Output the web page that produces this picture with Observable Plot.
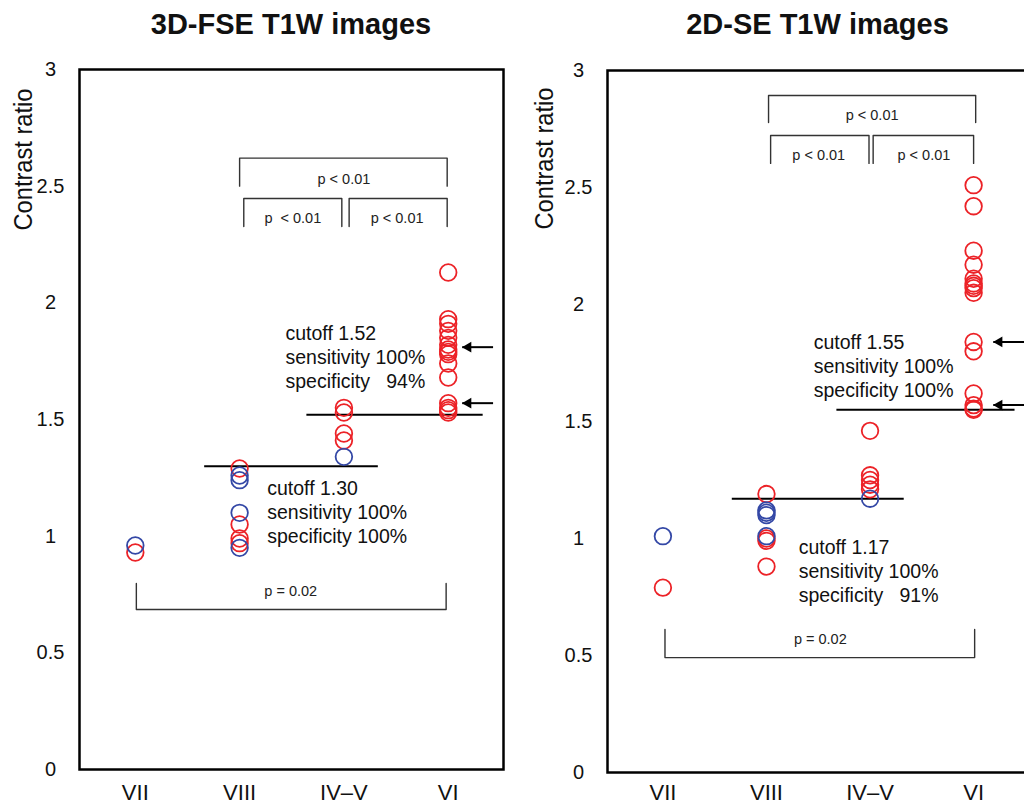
<!DOCTYPE html>
<html><head><meta charset="utf-8">
<script src="https://cdn.jsdelivr.net/npm/d3@7"></script>
<script src="https://cdn.jsdelivr.net/npm/@observablehq/plot@0.6"></script>
<style>
html,body{margin:0;padding:0;background:#fff;}
body{width:1024px;height:806px;overflow:hidden;position:relative;font-family:"Liberation Sans",Arial,sans-serif;}
.panel{position:absolute;top:0;width:512px;height:806px;}
.title{position:absolute;top:10px;font-weight:bold;font-size:29px;line-height:29px;text-align:center;color:#111;white-space:nowrap;}
.panel svg{position:absolute;top:48px;left:0;overflow:visible;}
svg text{white-space:pre;}
</style></head><body>
<div id="left" class="panel" style="left:0"></div>
<div id="right" class="panel" style="left:520px"></div>
<script>
const categories = ["VII","VIII","IV–V","VI"];
const yTicks = [0,0.5,1,1.5,2,2.5,3];
const yTickLabels = ["0","0.5","1","1.5","2","2.5","3"];
const panelTitles = ["3D-FSE T1W images","2D-SE T1W images"];
const yLabel = "Contrast ratio";

// values per category, in the order VII, VIII, IV–V, VI
const fseRed  = [[0.93],[1.29,1.05,0.99,0.97],[1.55,1.53,1.44,1.41],
                 [2.13,1.93,1.91,1.88,1.85,1.82,1.80,1.79,1.78,1.74,1.68,1.57,1.55,1.54,1.53]];
const fseBlue = [[0.96],[1.26,1.24,1.10,0.95],[1.34],[]];
const seRed   = [[0.79],[1.19,1.00,0.99,0.88],[1.46,1.27,1.25,1.23,1.21],
                 [2.51,2.42,2.23,2.17,2.11,2.09,2.08,2.07,2.05,1.84,1.80,1.62,1.57,1.555,1.55]];
const seBlue  = [[1.01],[1.12,1.11,1.10,1.01],[1.17],[]];

// cutoff lines (value, extent in category units)
const fseCutoffs = [{value:1.30, x1:0.665, x2:2.33},{value:1.52, x1:1.645, x2:3.335}];
const seCutoffs  = [{value:1.17, x1:0.67, x2:2.33},{value:1.55, x1:1.68, x2:3.40}];

const fseCutoffText = [
  {x:1.44, y:1.771, text:"cutoff 1.52\nsensitivity 100%\nspecificity   94%"},
  {x:1.265, y:1.107, text:"cutoff 1.30\nsensitivity 100%\nspecificity 100%"}];
const seCutoffText = [
  {x:1.456, y:1.740, text:"cutoff 1.55\nsensitivity 100%\nspecificity 100%"},
  {x:1.311, y:0.864, text:"cutoff 1.17\nsensitivity 100%\nspecificity   91%"}];

// significance brackets
const fseBrackets = [
  {x1:1.00, x2:2.99, top:2.62, leg:2.50, label:"p < 0.01", lx:2.00, ly:2.531},
  {x1:1.04, x2:1.98, top:2.447, leg:2.327, label:"p  < 0.01", lx:1.51, ly:2.36},
  {x1:2.05, x2:2.99, top:2.447, leg:2.327, label:"p < 0.01", lx:2.51, ly:2.36},
  {x1:0.01, x2:2.98, top:0.686, leg:0.797, label:"p = 0.02", lx:1.49, ly:0.765}];
const seBrackets = [
  {x1:1.02, x2:3.02, top:2.893, leg:2.778, label:"p < 0.01", lx:2.02, ly:2.81},
  {x1:1.04, x2:1.99, top:2.722, leg:2.603, label:"p < 0.01", lx:1.505, ly:2.639},
  {x1:2.03, x2:3.00, top:2.722, leg:2.603, label:"p < 0.01", lx:2.52, ly:2.639},
  {x1:0.02, x2:3.01, top:0.491, leg:0.611, label:"p = 0.02", lx:1.52, ly:0.571}];

const fseArrows = [{y:1.81, tip:3.134, tail:3.43},{y:1.57, tip:3.134, tail:3.43}];
const seArrows  = [{y:1.84, tip:3.19, tail:3.56},{y:1.57, tip:3.19, tail:3.56}];

const RED = "#ec2227", BLUE = "#3448a6";

function toPoints(arr){ const out=[]; arr.forEach((vals,i)=>vals.forEach(v=>out.push({cat:i,value:v}))); return out; }

function panel(el, title, red, blue, cutoffs, ctext, brackets, arrows, o) {
  const bracketPath = brackets.flatMap((b,k)=>[
    {k,x:b.x1,y:b.leg},{k,x:b.x1,y:b.top},{k,x:b.x2,y:b.top},{k,x:b.x2,y:b.leg}]);
  const chart = Plot.plot({
    width:512, height:758,
    marginLeft:o.ml, marginRight:o.mr, marginTop:o.mt, marginBottom:o.mb,
    style:{fontFamily:"'Liberation Sans', Arial, sans-serif", background:"transparent", color:"#111"},
    x:{domain:[-0.535,3.53]},
    y:{domain:[0,3]},
    marks:[
      Plot.axisY(yTicks, {tickSize:0, tickPadding:29, textAnchor:"middle", fontSize:20,
        tickFormat:d=>yTickLabels[yTicks.indexOf(d)], label:null}),
      Plot.axisX([0,1,2,3], {tickSize:0, tickPadding:o.xpad, fontSize:22,
        tickFormat:i=>categories[i], label:null}),
      Plot.text([yLabel], {frameAnchor:"top-left", text:d=>d, rotate:-90, textAnchor:"end",
        dx:o.ldx, dy:o.ldy, fontSize:26, className:"ylab"}),
      Plot.line(bracketPath, {x:"x", y:"y", z:"k", stroke:"#333", strokeWidth:1.4}),
      Plot.text(brackets, {x:"lx", y:"ly", text:"label", fontSize:14.5, fill:"#222"}),
      Plot.ruleY(cutoffs, {y:"value", x1:"x1", x2:"x2", stroke:"#000", strokeWidth:2}),
      Plot.dot(toPoints(red), {x:"cat", y:"value", r:8.3, stroke:RED, strokeWidth:1.8, fill:"none"}),
      Plot.dot(toPoints(blue), {x:"cat", y:"value", r:8.3, stroke:BLUE, strokeWidth:1.8, fill:"none"}),
      Plot.text(ctext, {x:"x", y:"y", text:"text", textAnchor:"start", lineAnchor:"middle",
        lineHeight:1.22, fontSize:19.5, fill:"#111"}),
      Plot.link(arrows, {x1:"tail", x2:"tip", y1:"y", y2:"y", stroke:"#000", strokeWidth:2}),
      Plot.dot(arrows, {x:"tip", y:"y", symbol:"triangle", r:4, rotate:-90, fill:"#000", stroke:"none", dx:6}),
      Plot.frame({stroke:"#000", strokeWidth:2.5})
    ]
  });
  // condense the axis title like the narrow face in the reference
  d3.select(chart).selectAll("g.ylab text")
    .attr("textLength", 142).attr("lengthAdjust", "spacingAndGlyphs");
  const t = document.createElement("div");
  t.className = "title";
  t.textContent = title;
  t.style.left = o.ml + "px";
  t.style.width = (512 - o.ml - o.mr) + "px";
  el.appendChild(t);
  el.appendChild(chart);
}

panel(document.getElementById("left"), panelTitles[0], fseRed, fseBlue, fseCutoffs, fseCutoffText, fseBrackets, fseArrows,
  {ml:79, mr:9, mt:21, mb:37, ldx:-66, ldy:19, xpad:15});
panel(document.getElementById("right"), panelTitles[1], seRed, seBlue, seCutoffs, seCutoffText, seBrackets, seArrows,
  {ml:87, mr:4, mt:22, mb:34, ldx:-73, ldy:17, xpad:12});
</script>
</body></html>
